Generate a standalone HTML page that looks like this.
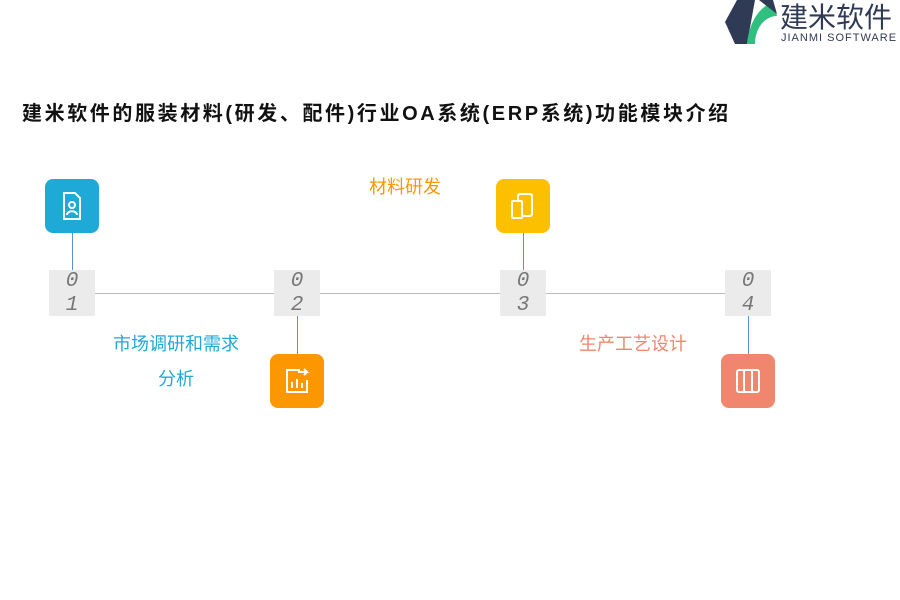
<!DOCTYPE html>
<html><head><meta charset="utf-8"><style>
body{margin:0;width:900px;height:600px;background:#fff;position:relative;overflow:hidden;font-family:"Liberation Sans","Noto Sans CJK SC",sans-serif}
.a{position:absolute;white-space:nowrap}
.box{position:absolute;width:46px;height:46px;background:#ebebeb;color:#777;font-family:"Liberation Mono",monospace;font-style:italic;font-size:21px;line-height:24px;text-align:center}
.ic{position:absolute;width:54px;height:54px;border-radius:8px}
.v{position:absolute;width:1px;background:#5b8fd6}
.t{position:absolute;font-size:18px;text-align:center;white-space:nowrap}
</style></head><body>
<svg class="a" style="left:725px;top:0" width="55" height="44" viewBox="0 0 55 44">
<polygon points="12,0 30,0 22,44 10,44 0,22" fill="#2f3a55"/>
<path d="M22,44 C24,25 32,8 48,2 L52,16 C40,16 30,28 30,44 Z" fill="#2fbf7f"/>
<path d="M34,0 L48,0 L52,14 Z" fill="#2f3a55"/>
</svg>
<div class="a" style="left:780px;top:-4px;font-size:28px;color:#2f3a55">建米软件</div>
<div class="a" style="left:781px;top:32px;font-size:11px;color:#2f3a55;letter-spacing:1px">JIANMI SOFTWARE</div>
<div class="a" style="left:22px;top:97px;font-size:20px;font-weight:bold;color:#111;letter-spacing:2.6px">建米软件的服装材料(研发、配件)行业OA系统(ERP系统)功能模块介绍</div>
<div class="a" style="left:72px;top:293px;width:676px;height:1px;background:#bbb"></div>
<div class="v" style="left:72px;top:233px;height:37px"></div>
<div class="v" style="left:297px;top:316px;height:38px"></div>
<div class="v" style="left:523px;top:233px;height:37px"></div>
<div class="v" style="left:748px;top:316px;height:38px"></div>
<div class="box" style="left:49px;top:270px">0<br>1</div>
<div class="box" style="left:274px;top:270px">0<br>2</div>
<div class="box" style="left:500px;top:270px">0<br>3</div>
<div class="box" style="left:725px;top:270px">0<br>4</div>
<div class="ic" style="left:45px;top:179px;background:#1fa9d6"><svg width="54" height="54"><path d="M19,14h11l5,5v21h-16z" fill="none" stroke="#fff" stroke-width="2"/><circle cx="27" cy="26" r="3" fill="none" stroke="#fff" stroke-width="2"/><path d="M22,36c0-5,10-5,10,0" fill="none" stroke="#fff" stroke-width="2"/></svg></div>
<div class="ic" style="left:270px;top:354px;background:#fd9700"><svg width="54" height="54"><path d="M30,16h-13v22h20v-12" fill="none" stroke="#fff" stroke-width="2"/><path d="M28,18h9l-3,-3M37,18l-3,3" fill="none" stroke="#fff" stroke-width="2"/><path d="M22,34v-6M27,34v-9M32,34v-5" stroke="#fff" stroke-width="2"/></svg></div>
<div class="ic" style="left:496px;top:179px;background:#fdc000"><svg width="54" height="54"><rect x="22" y="15" width="14" height="22" rx="2" fill="none" stroke="#fff" stroke-width="2"/><rect x="16" y="22" width="10" height="17" rx="1" fill="#fdc000" stroke="#fff" stroke-width="2"/></svg></div>
<div class="ic" style="left:721px;top:354px;background:#f0866e"><svg width="54" height="54"><rect x="16" y="16" width="22" height="22" rx="2" fill="none" stroke="#fff" stroke-width="2"/><path d="M23,16v22M31,16v22" stroke="#fff" stroke-width="2"/></svg></div>
<div class="t" style="left:345px;top:173px;width:120px;color:#fd9700">材料研发</div>
<div class="t" style="left:96px;top:327px;width:160px;color:#1fa9d6;line-height:35px">市场调研和需求<br>分析</div>
<div class="t" style="left:563px;top:330px;width:140px;color:#f0866e">生产工艺设计</div>
</body></html>
